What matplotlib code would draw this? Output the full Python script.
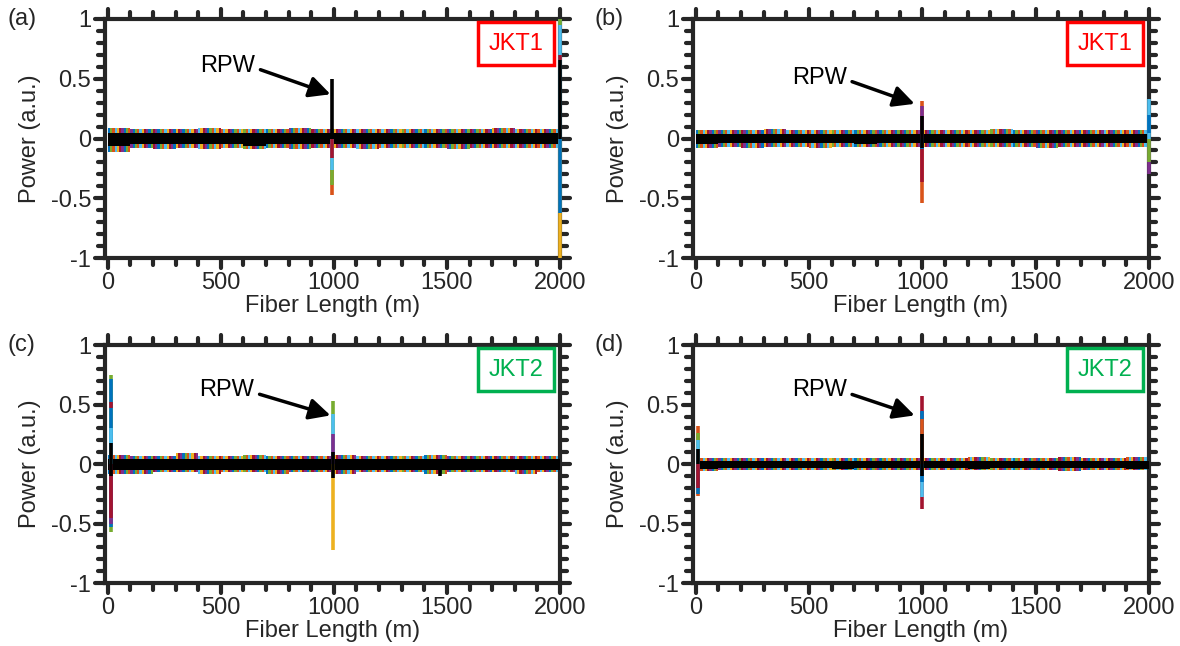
import matplotlib
matplotlib.use("Agg")
import matplotlib.pyplot as plt
from matplotlib.ticker import MultipleLocator
from matplotlib.markers import MarkerStyle

plt.rcParams['font.family'] = ['Liberation Sans', 'DejaVu Sans']
plt.rcParams['axes.unicode_minus'] = False

# cores padrao do MATLAB (indice 0..6), -1 = preto
cores = ['#0072BD', '#D95319', '#EDB120', '#7E2F8E', '#77AC30', '#4DBEEE', '#A2142F']
cinza = '#262626'

# inicio de cada trecho de 100 m
trechos = list(range(0, 2000, 100))

# envelope do ruido (faixa colorida) e nucleo preto, por painel
faixa_sup_a = [0.09, 0.08, 0.08, 0.08, 0.09, 0.08, 0.08, 0.08, 0.09, 0.08, 0.08, 0.08, 0.08, 0.08, 0.08, 0.08, 0.08, 0.09, 0.08, 0.08]
faixa_inf_a = [-0.11, -0.08, -0.09, -0.08, -0.09, -0.08, -0.09, -0.08, -0.09, -0.08, -0.08, -0.09, -0.08, -0.08, -0.08, -0.09, -0.08, -0.08, -0.08, -0.08]
nucleo_sup_a = [0.05, 0.05, 0.05, 0.05, 0.05, 0.05, 0.05, 0.05, 0.05, 0.05, 0.05, 0.05, 0.05, 0.05, 0.05, 0.05, 0.05, 0.05, 0.05, 0.05]
nucleo_inf_a = [-0.06, -0.05, -0.05, -0.05, -0.05, -0.05, -0.06, -0.05, -0.05, -0.05, -0.05, -0.05, -0.05, -0.05, -0.05, -0.05, -0.05, -0.05, -0.05, -0.05]

faixa_sup_b = [0.07, 0.07, 0.07, 0.08, 0.07, 0.07, 0.07, 0.07, 0.07, 0.07, 0.07, 0.07, 0.07, 0.08, 0.07, 0.07, 0.07, 0.07, 0.07, 0.07]
faixa_inf_b = [-0.08, -0.07, -0.08, -0.07, -0.07, -0.08, -0.07, -0.07, -0.07, -0.07, -0.07, -0.07, -0.07, -0.07, -0.07, -0.08, -0.07, -0.07, -0.07, -0.07]
nucleo_sup_b = [0.04, 0.04, 0.04, 0.04, 0.04, 0.04, 0.04, 0.04, 0.04, 0.04, 0.04, 0.04, 0.04, 0.04, 0.04, 0.04, 0.04, 0.04, 0.04, 0.04]
nucleo_inf_b = [-0.05, -0.04, -0.04, -0.04, -0.04, -0.04, -0.04, -0.05, -0.04, -0.04, -0.04, -0.04, -0.04, -0.04, -0.04, -0.04, -0.04, -0.04, -0.04, -0.04]

faixa_sup_c = [0.08, 0.07, 0.07, 0.09, 0.07, 0.07, 0.08, 0.07, 0.07, 0.07, 0.08, 0.07, 0.07, 0.07, 0.08, 0.07, 0.07, 0.07, 0.07, 0.07]
faixa_inf_c = [-0.08, -0.08, -0.07, -0.07, -0.08, -0.07, -0.07, -0.08, -0.07, -0.07, -0.08, -0.07, -0.07, -0.07, -0.08, -0.07, -0.07, -0.07, -0.08, -0.07]
nucleo_sup_c = [0.04, 0.04, 0.04, 0.04, 0.04, 0.04, 0.04, 0.04, 0.04, 0.04, 0.04, 0.04, 0.04, 0.04, 0.04, 0.04, 0.04, 0.04, 0.04, 0.04]
nucleo_inf_c = [-0.05, -0.05, -0.05, -0.05, -0.05, -0.05, -0.05, -0.05, -0.05, -0.05, -0.05, -0.05, -0.05, -0.05, -0.05, -0.05, -0.05, -0.05, -0.05, -0.05]

faixa_sup_d = [0.05, 0.05, 0.05, 0.05, 0.05, 0.05, 0.05, 0.05, 0.05, 0.05, 0.05, 0.05, 0.06, 0.05, 0.05, 0.05, 0.06, 0.05, 0.05, 0.06]
faixa_inf_d = [-0.06, -0.05, -0.05, -0.05, -0.05, -0.05, -0.05, -0.05, -0.05, -0.05, -0.05, -0.05, -0.05, -0.05, -0.05, -0.05, -0.06, -0.05, -0.05, -0.05]
nucleo_sup_d = [0.03, 0.03, 0.03, 0.03, 0.03, 0.03, 0.03, 0.03, 0.03, 0.03, 0.03, 0.03, 0.03, 0.03, 0.03, 0.03, 0.03, 0.03, 0.03, 0.03]
nucleo_inf_d = [-0.04, -0.03, -0.03, -0.03, -0.03, -0.03, -0.04, -0.03, -0.03, -0.03, -0.03, -0.03, -0.04, -0.03, -0.03, -0.03, -0.03, -0.03, -0.03, -0.04]

# picos (posicao, inicio, fim, cor)
pico_x_a = [990, 990, 990, 990, 990, 2000, 2000, 2000, 2000, 2000, 2000]
pico_y0_a = [0, 0, 0, 0, 0, 0, 0.95, 0.66, 0, 0, 0]
pico_y1_a = [-0.47, -0.39, -0.26, -0.16, 0.5, 1.0, 1.0, 0.70, -1.0, -0.62, 0.66]
pico_cor_a = [1, 4, 5, 6, -1, 5, 4, 6, 2, 0, -1]

pico_x_b = [1000, 1000, 1000, 1000, 1000, 1000, 1000, 2000, 2000, 2000, 2000]
pico_y0_b = [0, 0, 0, 0, 0, 0, 0, 0, 0.05, 0, 0]
pico_y1_b = [0.31, 0.27, -0.54, -0.36, -0.09, 0.19, -0.08, 0.33, 0.2, -0.3, -0.2]
pico_cor_b = [1, 3, 1, 6, 0, -1, -1, 5, 0, 3, 4]

pico_x_c = [15, 15, 15, 15, 15, 15, 15, 15, 15, 15, 995, 995, 995, 995, 995, 995, 1470]
pico_y0_c = [0, 0, 0.47, 0, 0, 0, 0, 0, 0, 0, 0, 0, 0, 0, 0, 0, 0]
pico_y1_c = [0.75, 0.72, 0.52, 0.3, -0.57, -0.53, -0.5, -0.45, 0.18, -0.1, 0.53, 0.42, 0.25, -0.72, 0.1, -0.12, -0.1]
pico_cor_c = [4, 0, 6, 5, 4, 0, 3, 6, -1, -1, 4, 5, 3, 2, -1, -1, -1]

pico_x_d = [12, 12, 12, 12, 12, 12, 12, 1000, 1000, 1000, 1000, 1000, 1000, 1000, 1000]
pico_y0_d = [0, 0, 0, 0, 0, 0, 0, 0, 0, 0, 0, 0, 0, 0, 0]
pico_y1_d = [0.32, 0.26, 0.2, -0.27, -0.25, -0.2, 0.13, 0.57, 0.45, 0.38, -0.38, -0.28, -0.15, 0.25, -0.1]
pico_cor_d = [1, 4, 5, 1, 0, 6, -1, 6, 0, 1, 6, 5, 0, -1, -1]

paineis = [
    ('(a)', 'JKT1', 'red', faixa_sup_a, faixa_inf_a, nucleo_sup_a, nucleo_inf_a,
     pico_x_a, pico_y0_a, pico_y1_a, pico_cor_a, (985, 0.37), (530, 0.61)),
    ('(b)', 'JKT1', 'red', faixa_sup_b, faixa_inf_b, nucleo_sup_b, nucleo_inf_b,
     pico_x_b, pico_y0_b, pico_y1_b, pico_cor_b, (966, 0.29), (545, 0.51)),
    ('(c)', 'JKT2', '#00B050', faixa_sup_c, faixa_inf_c, nucleo_sup_c, nucleo_inf_c,
     pico_x_c, pico_y0_c, pico_y1_c, pico_cor_c, (985, 0.41), (526, 0.62)),
    ('(d)', 'JKT2', '#00B050', faixa_sup_d, faixa_inf_d, nucleo_sup_d, nucleo_inf_d,
     pico_x_d, pico_y0_d, pico_y1_d, pico_cor_d, (966, 0.41), (545, 0.62)),
]

posicoes = [
    [0.089, 0.6006, 0.3856, 0.370],
    [0.5873, 0.6006, 0.3864, 0.370],
    [0.089, 0.0975, 0.3856, 0.368],
    [0.5873, 0.0975, 0.3864, 0.368],
]

fs = 17
fig = plt.figure(figsize=(11.8, 6.46), dpi=100)


def arredondar_ticks(eixo):
    # pontas arredondadas nos ticks, como no MATLAB
    ticks = eixo.get_major_ticks(len(eixo.get_majorticklocs()))
    ticks += eixo.get_minor_ticks(len(eixo.get_minorticklocs()))
    for t in ticks:
        for linha in (t.tick1line, t.tick2line):
            linha.set_marker(MarkerStyle(linha.get_marker(), capstyle='round'))


for pos, painel in zip(posicoes, paineis):
    (letra, jkt, cor_jkt, f_sup, f_inf, n_sup, n_inf,
     px, py0, py1, pcor, ponta, texto_xy) = painel
    ax = fig.add_axes(pos)

    # faixa colorida de ruido: cada trecho dividido em blocos finos de cores diferentes
    for i, x0 in enumerate(trechos):
        for j in range(10):
            ax.bar(x0 + 10 * j, f_sup[i] - f_inf[i], bottom=f_inf[i], width=10,
                   align='edge', color=cores[(3 * i + 4 * j) % 7], linewidth=0, zorder=1)

    # picos coloridos
    for x, y0, y1, c in zip(px, py0, py1, pcor):
        if c >= 0:
            ax.plot([x, x], [y0, y1], color=cores[c], lw=2.6, solid_capstyle='butt',
                    zorder=5, clip_on=False)

    # nucleo preto
    for i, x0 in enumerate(trechos):
        ax.bar(x0, n_sup[i] - n_inf[i], bottom=n_inf[i], width=100, align='edge',
               color='black', linewidth=0, zorder=3)
    for x, y0, y1, c in zip(px, py0, py1, pcor):
        if c < 0:
            ax.plot([x, x], [y0, y1], color='black', lw=2.6, solid_capstyle='butt',
                    zorder=5.5, clip_on=False)

    ax.set_xlim(-12, 2000)
    ax.set_ylim(-1, 1)
    ax.set_xticks([0, 500, 1000, 1500, 2000])
    ax.set_yticks([-1, -0.5, 0, 0.5, 1])
    ax.set_yticklabels(['-1', '-0.5', '0', '0.5', '1'])
    ax.xaxis.set_minor_locator(MultipleLocator(100))
    ax.yaxis.set_minor_locator(MultipleLocator(0.1))
    ax.tick_params(which='both', direction='out', top=True, right=True,
                   color=cinza, width=3, labelsize=fs, labelcolor=cinza, pad=3)
    ax.tick_params(which='major', length=7)
    ax.tick_params(which='minor', length=5)
    for s in ax.spines.values():
        s.set_linewidth(3)
        s.set_color(cinza)
    arredondar_ticks(ax.xaxis)
    arredondar_ticks(ax.yaxis)

    ax.set_xlabel('Fiber Length (m)', fontsize=fs, color=cinza, labelpad=1)
    ax.set_ylabel('Power (a.u.)', fontsize=fs, color=cinza, labelpad=7)

    ax.annotate('RPW', xy=ponta, xytext=texto_xy, fontsize=fs, ha='center', va='center',
                arrowprops=dict(arrowstyle='-|>', color='black', lw=2.5,
                                mutation_scale=32, relpos=(1, 0.4), shrinkA=2, shrinkB=0),
                zorder=6)

    ax.text(0.963, 0.943, jkt, transform=ax.transAxes, fontsize=fs, color=cor_jkt,
            ha='right', va='top', zorder=7,
            bbox=dict(boxstyle='square,pad=0.45', facecolor='white', edgecolor=cor_jkt, linewidth=2.5))

    ax.text(-0.215, 1.0, letra, transform=ax.transAxes, fontsize=fs, color=cinza,
            ha='left', va='center')

fig.savefig('out.png', dpi=100)
